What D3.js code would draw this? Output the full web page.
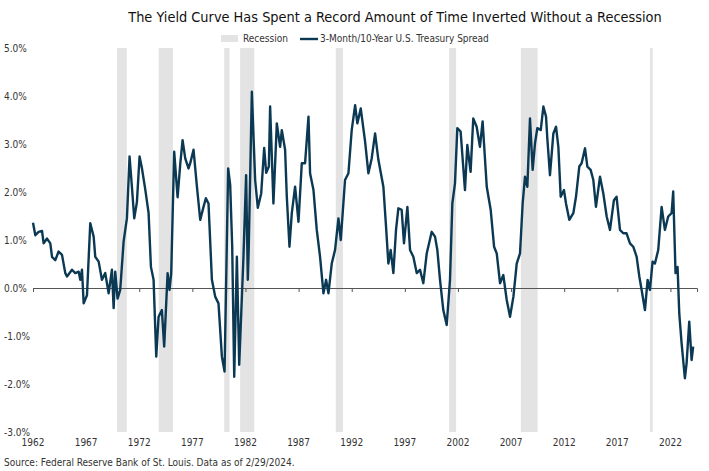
<!DOCTYPE html>
<html>
<head>
<meta charset="utf-8">
<script src="https://cdn.jsdelivr.net/npm/d3@7"></script>
<style>
  body { margin: 0; background: #fff; }
  text { font-family: "DejaVu Sans Condensed", "Liberation Sans Narrow", sans-serif; }
</style>
</head>
<body>
<svg id="chart" width="709" height="471"></svg>
<script>
// spread data (year, percent)
let years = [1962.00,1962.22,1962.53,1962.85,1963.00,1963.32,1963.63,1963.79,1964.10,1964.41,1964.73,1965.04,1965.20,1965.67,1965.98,1966.30,1966.45,1966.61,1966.77,1967.08,1967.39,1967.71,1967.86,1968.18,1968.49,1968.80,1969.12,1969.43,1969.59,1969.74,1969.96,1970.21,1970.53,1970.84,1971.09,1971.31,1971.53,1971.78,1972.03,1972.25,1972.57,1972.88,1973.10,1973.35,1973.60,1973.82,1974.13,1974.35,1974.67,1974.85,1975.01,1975.29,1975.61,1975.86,1976.08,1976.33,1976.64,1976.80,1977.11,1977.43,1977.74,1978.05,1978.27,1978.52,1978.84,1979.15,1979.46,1979.78,1980.03,1980.37,1980.56,1980.75,1980.94,1981.19,1981.41,1981.81,1982.06,1982.22,1982.31,1982.60,1982.91,1983.16,1983.48,1983.76,1983.95,1984.20,
  1984.32,1984.63,1984.95,1985.26,1985.42,1985.73,1985.89,1986.14,1986.36,1986.67,1986.99,1987.30,1987.61,1987.93,1988.08,1988.40,1988.71,1989.02,1989.34,1989.59,1989.81,1990.12,1990.43,1990.75,1990.97,1991.37,1991.69,1992.00,1992.32,1992.53,1992.85,1993.26,1993.57,1993.88,1994.20,1994.51,1994.98,1995.23,1995.45,1995.67,1995.92,1996.17,1996.39,1996.70,1996.92,1997.24,1997.49,1997.80,1998.12,1998.43,1998.74,1999.06,1999.53,1999.84,2000.06,2000.31,2000.62,2000.94,2001.25,2001.47,2001.72,2001.94,2002.25,2002.66,2002.88,2003.19,2003.44,2003.76,2004.07,2004.32,
  2004.71,2005.08,2005.40,2005.65,2005.96,2006.27,2006.59,2006.90,2007.22,2007.53,2007.84,2008.09,2008.31,2008.53,2008.78,2009.03,2009.25,2009.47,2009.79,2010.04,2010.29,2010.41,2010.66,2010.98,2011.23,2011.45,2011.67,2011.98,2012.17,2012.48,2012.86,2013.11,2013.42,2013.64,2013.96,2014.18,2014.49,2014.74,2014.99,2015.37,2015.68,2016.00,2016.31,2016.68,2016.93,2017.25,2017.56,2017.87,2018.19,2018.50,2018.82,2019.07,2019.29,2019.60,2019.85,2020.07,2020.32,2020.54,2020.85,2021.17,2021.48,2021.79,2022.11,2022.26,2022.48,2022.67,2022.83,2023.05,2023.36,2023.52,2023.77,2023.99,2024.14];
let spread = [1.36,1.10,1.17,1.19,0.93,1.03,0.93,0.65,0.58,0.76,0.69,0.31,0.24,0.38,0.31,0.34,0.17,0.38,-0.32,-0.15,1.35,1.07,0.65,0.55,0.17,0.31,-0.11,0.38,-0.42,0.34,-0.22,-0.04,0.97,1.45,2.74,2.11,1.45,1.79,2.74,2.50,2.05,1.56,0.44,0.17,-1.43,-0.60,-0.46,-1.22,0.31,-0.04,0.31,2.84,1.89,2.58,3.08,2.70,2.49,2.60,2.88,2.11,1.42,1.69,1.87,1.76,0.17,-0.18,-0.32,-1.43,-1.74,2.49,2.15,0.86,-1.85,0.65,-1.60,0.65,2.35,0.17,0.86,4.09,2.25,1.67,1.97,2.92,2.40,2.53,
  3.78,1.76,3.43,2.94,3.29,2.88,1.90,0.86,1.56,2.11,1.38,2.60,2.60,3.57,2.39,2.04,1.21,0.65,-0.11,0.17,-0.11,0.51,0.79,1.45,1.00,2.25,2.39,3.29,3.81,3.43,3.74,3.05,2.39,2.70,3.22,2.67,2.11,1.28,0.51,0.79,0.31,1.21,1.66,1.63,0.93,1.69,0.79,0.65,0.31,0.38,0.10,0.72,1.17,1.07,0.79,0.17,-0.46,-0.77,0.17,1.76,2.18,3.33,3.26,2.04,2.98,2.42,3.53,3.36,2.94,3.47,
  2.11,1.63,0.86,0.72,0.10,0.27,-0.25,-0.60,-0.18,0.51,0.72,1.76,2.32,2.11,3.53,2.46,3.01,3.33,3.29,3.78,3.57,3.12,2.35,3.22,3.36,2.94,1.90,2.04,1.76,1.42,1.56,1.90,2.53,2.60,2.91,2.53,2.46,2.25,1.69,2.32,1.97,1.49,1.21,1.83,1.90,1.21,1.14,1.14,0.93,0.86,0.65,0.24,-0.04,-0.46,0.17,-0.04,0.55,0.51,0.79,1.69,1.21,1.49,1.56,2.01,0.31,0.44,-0.53,-1.15,-1.88,-1.57,-0.70,-1.50,-1.22];

let recStart = [1969.92,1973.83,1980.00,1981.50,1990.50,2001.17,2007.92,2020.08];
let recEnd   = [1970.83,1975.17,1980.50,1982.83,1991.17,2001.83,2009.50,2020.33];

let yTicks = [5,4,3,2,1,0,-1,-2,-3];
let xTicks = [1962,1967,1972,1977,1982,1987,1992,1997,2002,2007,2012,2017,2022];

let svg = d3.select("#chart");
let x = d3.scaleLinear().domain([1962, 2024.5]).range([33, 697]);
let y = d3.scaleLinear().domain([-3, 5]).range([432, 48]);

// recession bars
svg.selectAll("rect.rec").data(recStart).enter().append("rect")
  .attr("x", (d) => x(d))
  .attr("width", (d, i) => Math.max(2, x(recEnd[i]) - x(d)))
  .attr("y", 48).attr("height", 432 - 48)
  .attr("fill", "#e3e3e3");

// y labels
svg.selectAll("text.yl").data(yTicks).enter().append("text")
  .attr("x", 4).attr("y", (d) => y(d) + 4)
  .attr("font-size", 10).attr("fill", "#333")
  .text((d) => d.toFixed(1) + "%");

// zero axis with ticks
let xAxis = d3.axisBottom(x).tickValues(xTicks).tickSize(4).tickFormat("");
let g = svg.append("g").attr("transform", "translate(0," + y(0) + ")").call(xAxis);
g.select(".domain").attr("stroke", "#555");
g.selectAll("line").attr("stroke", "#555");

// x labels at bottom
svg.selectAll("text.xl").data(xTicks).enter().append("text")
  .attr("x", (d) => x(d)).attr("y", 446)
  .attr("text-anchor", "middle")
  .attr("font-size", 10).attr("fill", "#333")
  .text((d) => d);

// the spread line
let line = d3.line().x((d, i) => x(years[i])).y((d) => y(d));
svg.append("path").datum(spread)
  .attr("d", line)
  .attr("fill", "none")
  .attr("stroke", "#0b3954")
  .attr("stroke-width", 2.4)
  .attr("stroke-linejoin", "round");

// title
svg.append("text").attr("x", 395).attr("y", 22)
  .attr("text-anchor", "middle").attr("font-size", 14.4).attr("fill", "#111")
  .text("The Yield Curve Has Spent a Record Amount of Time Inverted Without a Recession");

// legend
svg.append("rect").attr("x", 221).attr("y", 35).attr("width", 17).attr("height", 7).attr("fill", "#e3e3e3");
svg.append("text").attr("x", 243).attr("y", 42).attr("font-size", 10).attr("fill", "#333").text("Recession");
svg.append("line").attr("x1", 300).attr("x2", 318).attr("y1", 39).attr("y2", 39)
  .attr("stroke", "#0b3954").attr("stroke-width", 2.4);
svg.append("text").attr("x", 320).attr("y", 42).attr("font-size", 10).attr("fill", "#333")
  .text("3-Month/10-Year U.S. Treasury Spread");

// source
svg.append("text").attr("x", 4).attr("y", 466).attr("font-size", 10).attr("fill", "#333")
  .text("Source: Federal Reserve Bank of St. Louis. Data as of 2/29/2024.");
</script>
</body>
</html>
